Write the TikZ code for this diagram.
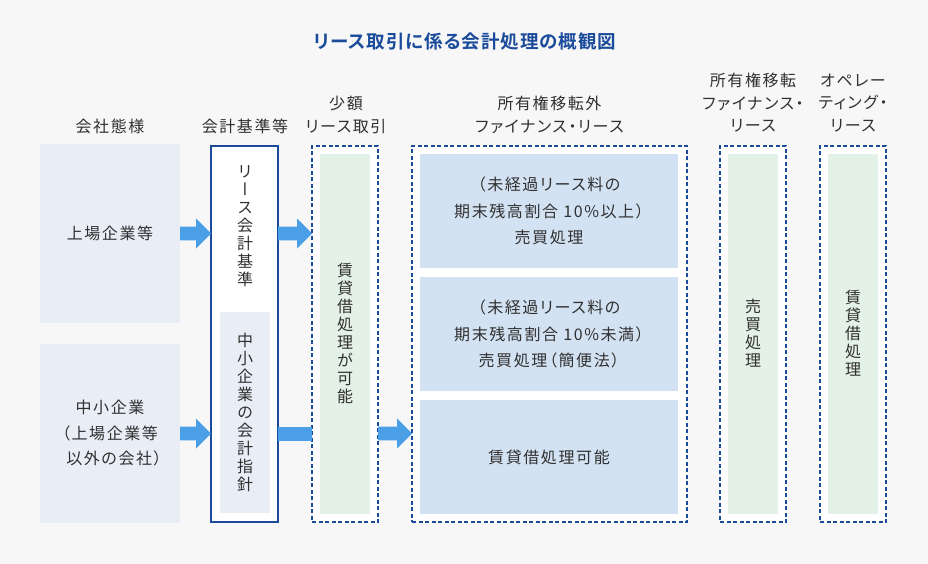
\documentclass[tikz,border=0pt]{standalone}
\usepackage{fontspec}
\usepackage{graphicx}
\usetikzlibrary{calc}
\setmainfont{Noto Sans CJK JP}[LetterSpace=10, RawFeature=+palt]
\newfontfamily\vfont{Noto Sans CJK JP}[LetterSpace=0, RawFeature=+vert]
\newfontfamily\titlefont{Noto Sans CJK JP}[UprightFont=* Bold, LetterSpace=5, RawFeature=+palt]
\definecolor{bg}{HTML}{F7F7F7}
\definecolor{navy}{HTML}{1B4B9B}
\definecolor{arrowc}{HTML}{4A9FE6}
\definecolor{paleblue}{HTML}{E9EEF6}
\definecolor{lightblue}{HTML}{D3E2F3}
\definecolor{lightgreen}{HTML}{E3F1E7}
\definecolor{txt}{HTML}{303030}
\newcommand\barrow[2]{%
  \fill[arrowc] let \p1=(#1), \p2=(#2) in
    (\x1,\y1+6.8pt) -- (\x2-15pt,\y1+6.8pt) -- (\x2-15pt,\y1+15pt) -- (\x2,\y1)
    -- (\x2-15pt,\y1-15pt) -- (\x2-15pt,\y1-6.8pt) -- (\x1,\y1-6.8pt) -- cycle;}
\begin{document}
\begin{tikzpicture}[x=1pt,y=-1pt,
  every node/.style={text=txt, inner sep=0pt, outer sep=0pt},
  lbl/.style={font=\fontsize{16}{22.5}\selectfont, align=center},
  btext/.style={font=\fontsize{16}{26.5}\selectfont, align=center},
  vtext/.style={font=\vfont\fontsize{16}{18}\selectfont, align=center},
  leftbox/.style={fill=paleblue, minimum width=140pt, minimum height=179pt},
  dashbox/.style={draw=navy, line width=2pt, dash pattern=on 4pt off 2.5pt, fill=white, minimum height=376pt},
  greenbox/.style={fill=lightgreen, minimum width=50pt, minimum height=360pt},
  bluebox/.style={fill=lightblue, minimum width=258pt, minimum height=114pt}]
\fill[bg] (0,0) rectangle (928,564);
\useasboundingbox (0,0) rectangle (928,564);
% title
\node[font=\titlefont\fontsize{18.5}{22}\selectfont, text=navy] (title) at (465,41) {リース取引に係る会計処理の概観図};
% headers
\node[lbl] (h1) at (110,126) {会社態様};
\node[lbl] (h2) at (245,126) {会計基準等};
\node[lbl] (h3) at (346,115) {少額\\リース取引};
\node[lbl] (h4) at (549.5,115) {所有権移転外\\ファイナンス・リース};
\node[lbl] (h5) at (753,103) {所有権移転\\ファイナンス・\\リース};
\node[lbl] (h6) at (853,103) {オペレー\\ティング・\\リース};
% company boxes
\node[leftbox, btext] (c1) at (110,233.5) {上場企業等};
\node[leftbox, font=\fontsize{16}{25.5}\selectfont, align=center] (c2) at (110,433.5) {中小企業\\（上場企業等\\\hspace*{8pt}以外の会社）};
% standards
\node[draw=navy, line width=2pt, fill=white, minimum width=67pt, minimum height=376pt] (std) at (244.5,334) {};
\node[vtext] (stdtxt) at (245,226) {リ\\ー\\ス\\会\\計\\基\\準};
\node[fill=paleblue, minimum width=50pt, minimum height=201pt] (chusho) at (245,412.5) {};
\node[vtext] (chushotxt) at (245,412.5) {中\\小\\企\\業\\の\\会\\計\\指\\針};
% small lease
\node[dashbox, minimum width=66pt] (sho) at (345,334) {};
\node[greenbox] (shoin) at (345,334) {};
\node[vtext] (shotxt) at (345,333) {賃\\貸\\借\\処\\理\\が\\可\\能};
% non-transfer finance lease
\node[dashbox, minimum width=275pt] (gai) at (549.5,334) {};
\node[bluebox, btext] (g1) at (549,211) {（未経過リース料の\\期末残高割合 10\%以上）\\売買処理};
\node[bluebox, btext] (g2) at (549,334) {（未経過リース料の\\期末残高割合 10\%未満）\\売買処理（簡便法）};
\node[bluebox, btext] (g3) at (549,457) {賃貸借処理可能};
% transfer finance lease
\node[dashbox, minimum width=66pt] (iten) at (753,334) {};
\node[greenbox] (itenin) at (753,334) {};
\node[vtext] (itentxt) at (753,333) {売\\買\\処\\理};
% operating lease
\node[dashbox, minimum width=66pt] (ope) at (853,334) {};
\node[greenbox] (opein) at (853,334) {};
\node[vtext] (opetxt) at (853,333) {賃\\貸\\借\\処\\理};
% arrows
\barrow{c1.east}{c1.east -| std.west}
\barrow{c2.east}{c2.east -| std.west}
\barrow{c1.east -| std.east}{c1.east -| sho.west}
\fill[arrowc] let \p1=(c2.east -| std.east), \p2=(c2.east -| sho.west) in
  (\x1,\y1+7pt) rectangle (\x2,\y1-7pt);
\barrow{c2.east -| sho.east}{c2.east -| gai.west}
\end{tikzpicture}
\end{document}
